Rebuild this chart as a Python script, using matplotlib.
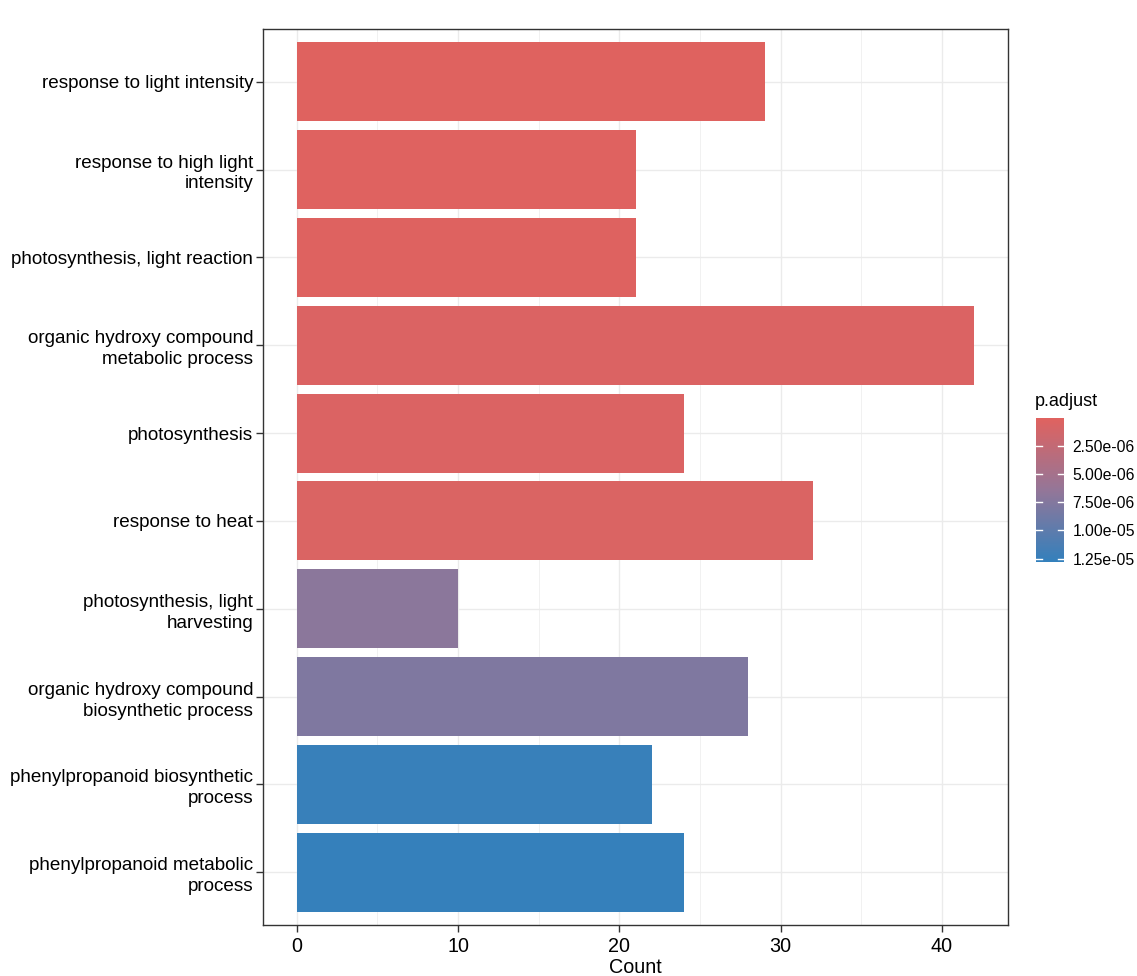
import numpy as np
import matplotlib.pyplot as plt
from matplotlib.colors import LinearSegmentedColormap, Normalize
import matplotlib.cm as cm

plt.rcParams['font.family'] = ['Liberation Sans', 'DejaVu Sans']

# GO terms, top to bottom
terms = ['response to light intensity',
         'response to high light\nintensity',
         'photosynthesis, light reaction',
         'organic hydroxy compound\nmetabolic process',
         'photosynthesis',
         'response to heat',
         'photosynthesis, light\nharvesting',
         'organic hydroxy compound\nbiosynthetic process',
         'phenylpropanoid biosynthetic\nprocess',
         'phenylpropanoid metabolic\nprocess']
counts = [29, 21, 21, 42, 24, 32, 10, 28, 22, 24]
padj = [1.0e-7, 1.5e-7, 2.0e-7, 4.5e-7, 5.0e-7, 5.5e-7, 7.0e-6, 7.8e-6, 1.25e-5, 1.27e-5]

p_min, p_max = 5e-8, 1.28e-5
# red -> blue gradient (mid stop mimics ggplot's Lab interpolation)
cmap = LinearSegmentedColormap.from_list('padj', ['#E0625F', '#947698', '#3380BC'])
norm = Normalize(vmin=p_min, vmax=p_max)

fig = plt.figure(figsize=(11.37, 9.76), dpi=100)
ax = fig.add_axes([263/1137, 1 - 925/976, (1008-263)/1137, (925-29)/976])

ypos = np.arange(len(terms))[::-1] + 1
ax.barh(ypos, counts, height=0.9, color=cmap(norm(np.array(padj))), zorder=3)

ax.set_xlim(-2.1, 44.1)
ax.set_ylim(0.4, len(terms) + 0.6)
ax.set_xticks([0, 10, 20, 30, 40])
ax.set_xticks([5, 15, 25, 35], minor=True)
ax.set_yticks(ypos)
ax.set_yticklabels(terms, linespacing=1.3)
ax.grid(True, which='major', color='#EBEBEB', lw=1.0, zorder=0)
ax.grid(True, which='minor', axis='x', color='#EBEBEB', lw=0.5, zorder=0)
ax.tick_params(axis='y', which='major', labelsize=13.6, color='#333333', length=5, width=1, labelcolor='black', pad=2)
ax.tick_params(axis='x', which='major', labelsize=14.2, color='#333333', length=5, width=1, labelcolor='black', pad=4)
ax.tick_params(axis='x', which='minor', length=0)
for s in ax.spines.values():
    s.set_color('#333333')
    s.set_linewidth(1.0)
ax.set_xlabel('Count', fontsize=14.2, labelpad=1)

# colour bar legend
cax = fig.add_axes([1036/1137, 1 - 562/976, 28/1137, 144/976])
sm = cm.ScalarMappable(norm=norm, cmap=cmap)
cb = fig.colorbar(sm, cax=cax)
cax.invert_yaxis()
cb.set_ticks([2.5e-6, 5e-6, 7.5e-6, 1e-5, 1.25e-5])
cb.set_ticklabels(['2.50e-06', '5.00e-06', '7.50e-06', '1.00e-05', '1.25e-05'])
cb.outline.set_visible(False)
cax.tick_params(length=0, labelsize=11.3, pad=6)
for t in [2.5e-6, 5e-6, 7.5e-6, 1e-5, 1.25e-5]:
    cax.plot([0, 0.2], [t, t], color='white', lw=1, transform=cax.get_yaxis_transform())
    cax.plot([0.8, 1.0], [t, t], color='white', lw=1, transform=cax.get_yaxis_transform())
fig.text(1035/1137, 1 - 401/976, 'p.adjust', fontsize=13, va='center', ha='left')

fig.savefig('out.png', dpi=100)
